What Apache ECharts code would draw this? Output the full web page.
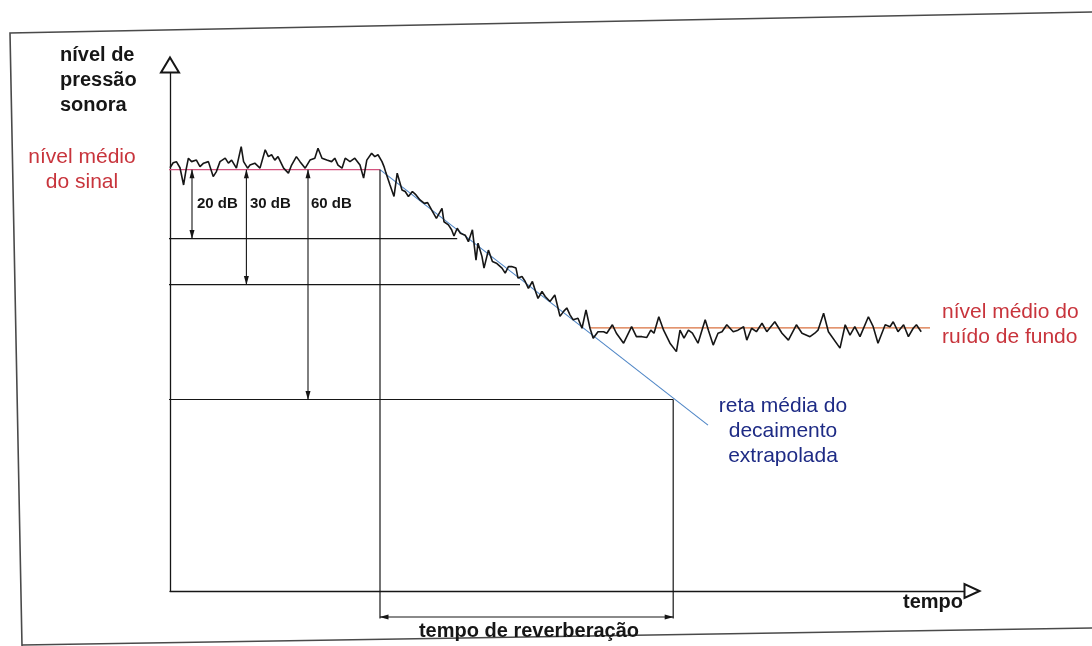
<!DOCTYPE html>
<html>
<head>
<meta charset="utf-8">
<script src="https://cdn.jsdelivr.net/npm/echarts@6.0.0/dist/echarts.min.js"></script>
<style>
  html, body { margin: 0; padding: 0; background: #ffffff; }
  #chart { width: 1092px; height: 646px; }
</style>
</head>
<body>
<div id="chart"></div>
<script>
// ---------------- data (time in arbitrary units, level in dB) ----------------
const plateau = [[0,110.5],[0.4,111.8],[0.8,112.1],[1.25,110.5],[1.7,106.0],[2.0,109.9],[2.3,113.0],[2.7,112.1],[3.3,112.5],[3.75,110.8],[4.2,111.7],[4.8,112.1],[5.4,108.2],[5.8,109.5],[6.25,112.1],[6.9,113.0],[7.3,111.7],[7.7,112.5],[8.3,110.4],[8.9,116.0],[9.2,112.1],[9.7,110.4],[10.0,111.2],[10.6,111.7],[11.25,110.4],[11.9,115.2],[12.3,113.4],[12.7,113.9],[13.1,112.5],[13.5,113.4],[14.2,110.4],[14.8,109.1],[15.2,111.2],[15.8,113.4],[16.25,112.1],[16.9,110.4],[17.5,112.5],[18.1,113.0],[18.5,115.6],[19.0,113.0],[19.6,112.5],[20.2,112.1],[20.6,113.0],[21.0,111.2],[21.5,110.4],[21.9,113.0],[22.5,112.1],[23.1,113.0],[23.75,111.2],[24.2,107.8],[24.6,112.5],[25.2,114.3],[25.6,113.4],[26.0,113.9],[26.5,112.1],[26.75,110.8]];
const decay = [[27.0,109.1],[27.5,106.0],[28.0,103.0],[28.4,109.1],[29.0,104.7],[29.4,104.3],[29.8,103.0],[30.3,104.3],[30.75,103.4],[31.25,102.1],[31.8,101.2],[32.2,101.4],[32.7,99.5],[33.3,97.3],[34.0,99.9],[34.25,96.4],[34.8,95.6],[35.2,94.3],[35.5,92.7],[35.9,94.7],[36.3,93.4],[36.9,92.9],[37.3,91.2],[37.8,94.3],[38.25,86.4],[38.5,90.8],[39.0,87.3],[39.25,84.3],[39.8,89.0],[40.3,86.0],[40.8,85.6],[41.5,84.3],[41.9,83.0],[42.3,84.7],[42.7,84.7],[43.25,84.3],[43.5,81.7],[44.0,82.1],[44.4,80.8],[44.8,79.0],[45.3,80.8],[45.7,78.2],[46.0,76.4],[46.5,78.2],[46.9,76.9],[47.5,75.6],[48.1,77.3],[48.5,73.9],[48.75,71.7],[49.2,73.0],[49.6,73.9],[50.0,72.1],[50.4,70.8],[51.0,71.2],[51.5,68.6],[52.0,73.4],[52.5,68.6],[52.9,66.0],[53.5,67.7],[54.2,67.7],[54.6,67.3]];
const floor = [[55.3,69.5],[55.8,67.3],[56.7,64.7],[57.7,69.0],[58.3,66.4],[59.0,66.4],[59.6,66.2],[60.1,68.1],[60.5,67.3],[61.1,71.6],[61.7,68.1],[62.5,64.7],[63.3,62.5],[63.75,68.1],[64.25,66.0],[64.8,68.1],[65.3,67.3],[66.0,64.7],[66.9,70.8],[67.3,68.1],[67.9,64.2],[68.5,67.3],[69.0,67.7],[69.6,69.5],[70.0,68.6],[70.4,67.7],[71.0,68.1],[71.7,69.0],[72.1,65.5],[72.7,68.6],[73.3,67.7],[74.0,69.9],[74.6,67.7],[75.6,70.3],[76.5,67.3],[77.3,65.5],[78.3,69.5],[79.0,67.3],[80.0,66.4],[80.6,67.3],[81.0,68.1],[81.7,72.5],[82.3,67.7],[83.75,63.4],[84.4,69.5],[85.0,66.8],[85.6,69.0],[86.25,66.4],[87.3,71.6],[87.9,69.0],[88.5,64.7],[89.4,69.5],[90.0,69.0],[90.4,70.3],[91.0,67.7],[91.7,69.5],[92.3,66.4],[92.9,68.6],[93.3,69.5],[93.9,67.7]];

const signalMean = 110;
const signalMeanStart = -3.75;
const decayStart = 26.25;
const noiseMean = 68.7;
const noiseMeanSpan = [52.5, 95];
const extrapolatedLine = [[26.25, 110], [67.25, 43.3]];
const dropLevels = [92, 80, 50];
const dropLabels = ['20 dB', '30 dB', '60 dB'];
const dropArrowTimes = [2.75, 9.55, 17.25];
const dropLineEnds = [35.9, 43.75, 62.9];
const refLineStart = -1.25;
const rtEnd = 62.9;
const bracketLevel = -6.8;
const dropBottom = -7.2;
const axisMax = [99.375, 135.5];

// ---------------- chart ----------------
const chart = echarts.init(document.getElementById('chart'), null, { renderer: 'canvas' });
const INK = '#161616';
const FONT = '"Liberation Sans", Arial, sans-serif';

function plain(data, color, width, z) {
  return {
    type: 'line', data: data, clip: false, silent: true, animation: false,
    symbol: 'none', z: z || 2,
    lineStyle: { color: color, width: width }
  };
}
function arrowItem(pt, dir) {
  // dir: direction the arrow head points
  const rot = { up: 0, down: 180, left: 90, right: -90 }[dir];
  const off = { up: [0, 4], down: [0, -4], left: [4, 0], right: [-4, 0] }[dir];
  return { value: pt, symbolRotate: rot, symbolOffset: off };
}
function arrowSeg(p0, d0, p1, d1) {
  return {
    type: 'line', clip: false, silent: true, animation: false, z: 3,
    symbol: 'triangle', symbolSize: [5, 9], showSymbol: true,
    itemStyle: { color: INK },
    lineStyle: { color: INK, width: 1.1 },
    data: [arrowItem(p0, d0), arrowItem(p1, d1)]
  };
}

const series = [];
// mean level lines
series.push(plain([[signalMeanStart, signalMean], [decayStart, signalMean]], '#d4547f', 1.3, 2));
series.push(plain([[noiseMeanSpan[0], noiseMean], [noiseMeanSpan[1], noiseMean]], '#d9703f', 1.3, 2));
// extrapolated decay line
series.push(plain(extrapolatedLine, '#4f86c6', 1.1, 2));
// horizontal reference lines (20, 30, 60 dB)
dropLevels.forEach(function (lv, i) {
  series.push(plain([[refLineStart, lv], [dropLineEnds[i], lv]], INK, 1.2, 2));
});
// verticals down to the reverberation bracket
series.push(plain([[decayStart, signalMean], [decayStart, dropBottom]], INK, 1.2, 2));
series.push(plain([[rtEnd, dropLevels[2]], [rtEnd, dropBottom]], INK, 1.2, 2));
// double arrows
dropLevels.forEach(function (lv, i) {
  series.push(arrowSeg([dropArrowTimes[i], signalMean], 'up', [dropArrowTimes[i], lv], 'down'));
});
// reverberation time bracket
series.push(arrowSeg([decayStart, bracketLevel], 'left', [rtEnd, bracketLevel], 'right'));
// measured level curve
series.push(plain(plateau.concat(decay, floor), INK, 1.6, 5));

function txt(x, y, text, opt) {
  return {
    type: 'text', x: x, y: y, silent: true, z: 10,
    style: Object.assign({
      text: text, fill: INK, fontFamily: FONT, fontSize: 21, fontWeight: 'normal',
      align: 'left', verticalAlign: 'middle', lineHeight: 25
    }, opt || {})
  };
}

const graphic = [
  { type: 'polyline', silent: true, z: 1, shape: { points: [[1092, 12], [10, 33], [22, 646]] },
    style: { stroke: '#4a4a4a', lineWidth: 1.6, fill: null } },
  { type: 'polyline', silent: true, z: 1, shape: { points: [[22, 645], [1092, 628]] },
    style: { stroke: '#4a4a4a', lineWidth: 1.6, fill: null } },
  txt(60, 80, 'nível de\npressão\nsonora', { fontWeight: 'bold', fontSize: 20 }),
  txt(82, 170, 'nível médio\ndo sinal', { fill: '#c8343c', align: 'center' }),
  txt(942, 325, 'nível médio do\nruído de fundo', { fill: '#c8343c' }),
  txt(783, 431, 'reta média do\ndecaimento\nextrapolada', { fill: '#1e2b85', align: 'center' }),
  txt(933, 602, 'tempo', { fontWeight: 'bold', fontSize: 20, align: 'center' }),
  txt(529, 631, 'tempo de reverberação', { fontWeight: 'bold', fontSize: 20, align: 'center' })
];
const dbLabelX = [197, 250, 311];
dropLabels.forEach(function (t, i) {
  graphic.push(txt(dbLabelX[i], 204, t, { fontWeight: 'bold', fontSize: 15 }));
});

function axis(max, size) {
  return {
    type: 'value', min: 0, max: max,
    axisLine: {
      show: true, onZero: false,
      lineStyle: { color: INK, width: 1.3 },
      symbol: ['none', 'emptyTriangle'], symbolSize: size, symbolOffset: [0, 7]
    },
    axisTick: { show: false }, axisLabel: { show: false }, splitLine: { show: false }
  };
}

chart.setOption({
  backgroundColor: '#ffffff',
  animation: false,
  grid: { left: 170, right: 127, top: 72, bottom: 55, outerBoundsMode: 'none', containLabel: false },
  xAxis: axis(axisMax[0], [14, 15]),
  yAxis: axis(axisMax[1], [18, 15]),
  series: series,
  graphic: graphic
});
</script>
</body>
</html>
